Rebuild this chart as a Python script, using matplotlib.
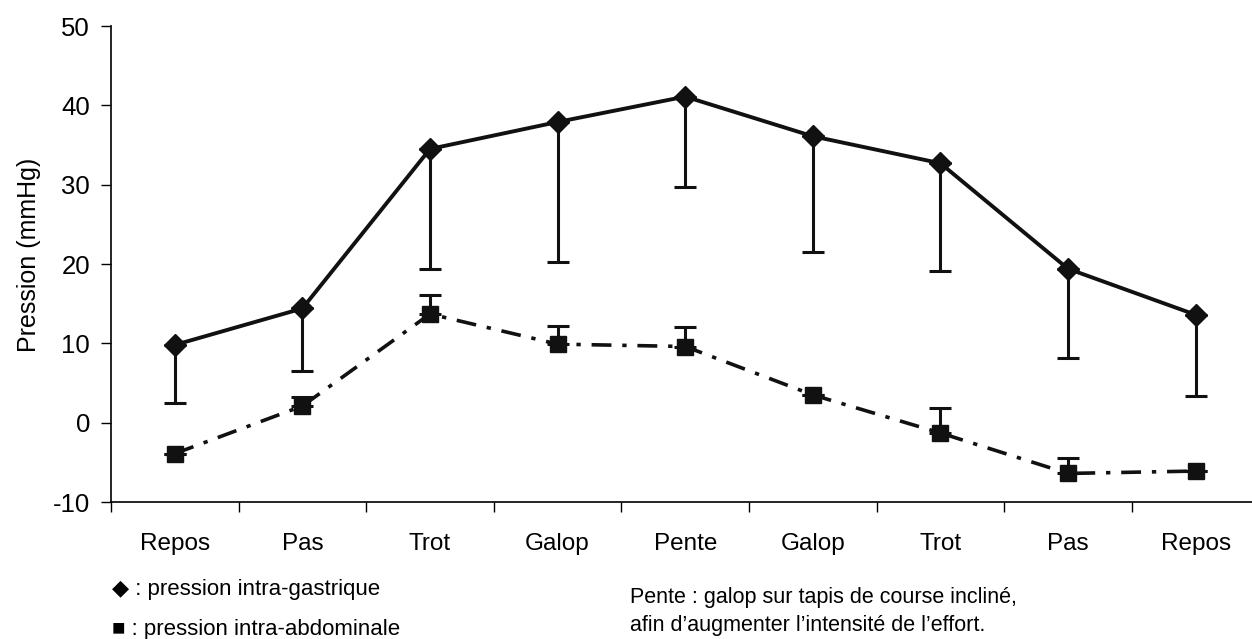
import matplotlib.pyplot as plt
import numpy as np

plt.rcParams['font.family'] = ['Liberation Sans', 'DejaVu Sans']
plt.rcParams['axes.unicode_minus'] = False

categories = ['Repos', 'Pas', 'Trot', 'Galop', 'Pente', 'Galop', 'Trot', 'Pas', 'Repos']

# pression intra-gastrique (mean, lower error bar end)
gastric = [9.8, 14.4, 34.5, 37.9, 41.1, 36.1, 32.7, 19.4, 13.6]
gastric_low = [2.5, 6.5, 19.4, 20.3, 29.7, 21.5, 19.1, 8.2, 3.4]

# pression intra-abdominale (mean, upper error bar end)
abdo = [-3.9, 2.1, 13.7, 9.9, 9.6, 3.5, -1.3, -6.4, -6.1]
abdo_high = [-3.9, 3.2, 16.1, 12.2, 12.1, 3.5, 1.9, -4.5, -6.1]

x = np.arange(len(categories))

fig = plt.figure(figsize=(12.52, 6.39), dpi=100)
ax = fig.add_axes([111 / 1252, 1 - 502 / 639, 9 * 127.6 / 1252, (502 - 26) / 639])

g = np.array(gastric)
a = np.array(abdo)
g_err = [g - np.array(gastric_low), np.zeros(len(g))]
a_err = [np.zeros(len(a)), np.array(abdo_high) - a]

ax.errorbar(x, g, yerr=g_err, color='#111111', lw=2.8, marker='D', ms=11,
            capsize=8, capthick=2.2, elinewidth=2.2, ls='-')
ax.errorbar(x, a, yerr=a_err, color='#111111', lw=2.6, marker='s', ms=12,
            capsize=8, capthick=2.2, elinewidth=2.2, ls=(0, (5.5, 3, 1.2, 3)))

ax.set_xlim(-0.5, 8.5)
ax.set_ylim(-10, 50)
ax.set_yticks(range(-10, 51, 10))
ax.tick_params(axis='y', labelsize=18.5, length=7, width=1, direction='out', pad=8)
ax.set_xticks(x)
ax.set_xticklabels(categories, fontsize=17.5)
ax.tick_params(axis='x', which='major', length=0, pad=22)
ax.set_xticks(np.arange(-0.5, 9.0, 1.0), minor=True)
ax.tick_params(axis='x', which='minor', length=7, width=1, direction='out')
for s in ['top', 'right']:
    ax.spines[s].set_visible(False)
ax.spines['left'].set_linewidth(1.2)
ax.spines['bottom'].set_linewidth(1.2)
ax.set_ylabel('Pression (mmHg)', fontsize=18)
ax.yaxis.set_label_coords(-0.061, 0.52)

fig.text(112 / 1252, 1 - 589 / 639, '◆ : pression intra-gastrique', fontsize=16, va='center')
fig.text(112 / 1252, 1 - 629 / 639, '■ : pression intra-abdominale', fontsize=16, va='center')
fig.text(630 / 1252, 1 - 597 / 639, 'Pente : galop sur tapis de course incliné,', fontsize=15.5, va='center')
fig.text(630 / 1252, 1 - 626 / 639, 'afin d’augmenter l’intensité de l’effort.', fontsize=15.5, va='center')

fig.savefig('out.png', dpi=100)
